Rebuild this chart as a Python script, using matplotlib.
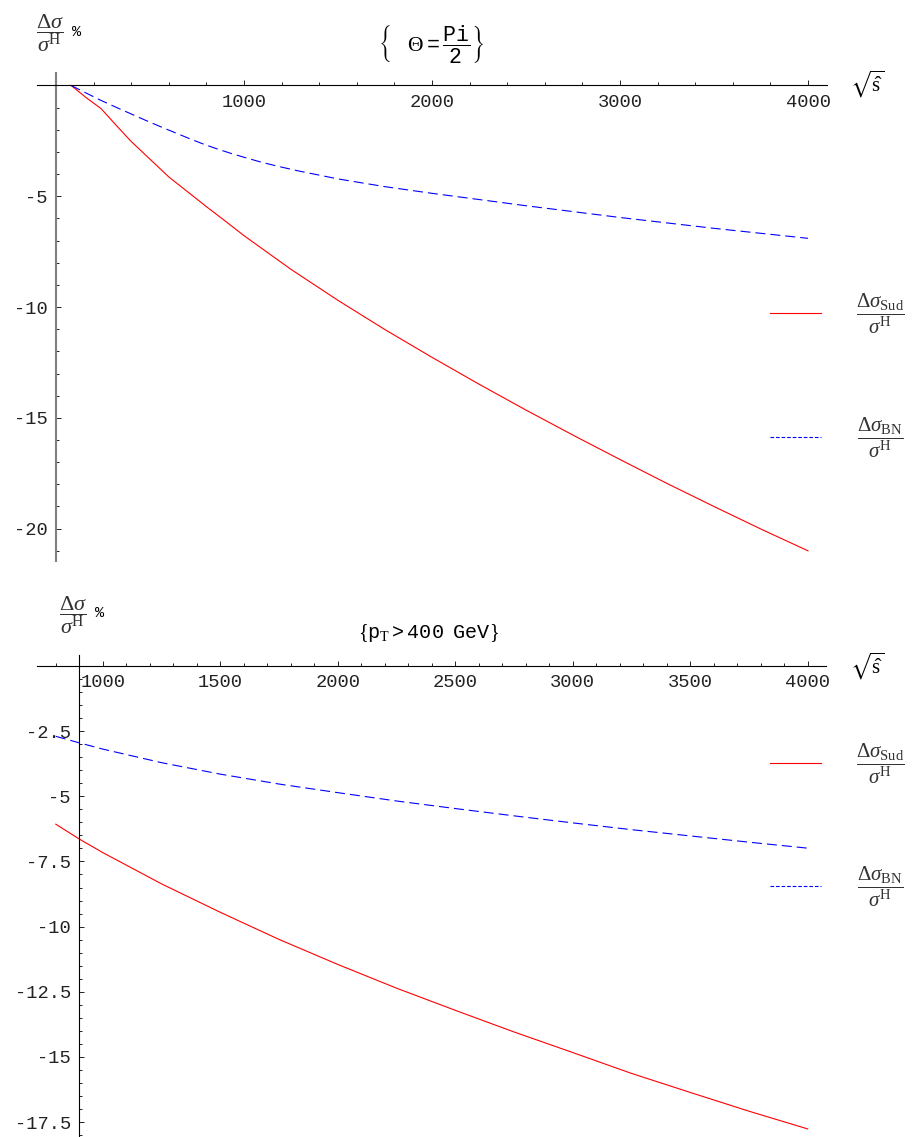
import numpy as np
from matplotlib import pyplot as plt
from matplotlib.lines import Line2D
from matplotlib.ticker import FixedLocator, MultipleLocator

plt.rcParams['mathtext.fontset'] = 'custom'
plt.rcParams['mathtext.rm'] = 'Liberation Serif'
plt.rcParams['mathtext.it'] = 'Liberation Serif:italic'
plt.rcParams['mathtext.tt'] = 'Liberation Mono'
plt.rcParams['mathtext.fallback'] = 'stix'
plt.rcParams['lines.scale_dashes'] = False

W, H = 913, 1137
MONO = ['Liberation Mono', 'DejaVu Sans Mono']

# upper panel, theta = Pi/2
s_top_sud = [80, 160, 240, 320, 400, 500, 600, 700, 800, 900, 1000, 1250, 1500, 1750,
             2000, 2250, 2500, 2750, 3000, 3250, 3500, 3750, 4000]
d_top_sud = [0, -0.55, -1.05, -1.80, -2.53, -3.33, -4.13, -4.80, -5.47, -6.12, -6.78, -8.30,
             -9.70, -11.02, -12.27, -13.48, -14.65, -15.78, -16.88, -17.96, -19.00, -20.02, -21.0]
s_top_bn = [80, 145, 235, 315, 395, 475, 555, 635, 715, 785, 855, 935, 1015, 1095, 1175, 1290,
            1500, 1750, 2000, 2500, 3000, 3500, 4000]
d_top_bn = [0, -0.28, -0.66, -0.97, -1.27, -1.57, -1.86, -2.14, -2.42, -2.65, -2.86, -3.08,
            -3.28, -3.47, -3.64, -3.86, -4.22, -4.57, -4.87, -5.43, -5.96, -6.45, -6.90]

# lower panel, pT > 400 GeV
s_bot = [800, 900, 1000, 1250, 1500, 1750, 2000, 2250, 2500, 2750, 3000, 3250, 3500, 3750, 4000]
d_bot_sud = [-6.07, -6.64, -7.16, -8.36, -9.45, -10.49, -11.45, -12.36, -13.21, -14.04, -14.83,
             -15.63, -16.36, -17.08, -17.76]
d_bot_bn = [-2.70, -2.95, -3.19, -3.71, -4.15, -4.53, -4.86, -5.18, -5.47, -5.75, -6.02,
            -6.28, -6.52, -6.76, -6.99]

top_xticks = [1000, 2000, 3000, 4000]
top_yticks = [-5, -10, -15, -20]
bot_xticks = [1000, 1500, 2000, 2500, 3000, 3500, 4000]
bot_yticks = [-2.5, -5, -7.5, -10, -12.5, -15, -17.5]
bot_ylabels = ['-2.5', '-5', '-7.5', '-10', '-12.5', '-15', '-17.5']


def fx(x):
    return x / W


def fy(y):
    return 1 - y / H


fig = plt.figure(figsize=(W / 100, H / 100), dpi=100)

ax1 = fig.add_axes([fx(37.2), fy(560.8), 789.6 / W, 487.6 / H])
ax2 = fig.add_axes([fx(37), 0, 789 / W, 482 / H])


def style_axes(ax, x0, xticks, xlabels, xminor, yticks, ylabels, yminor, ycol, ylw):
    for sp in ['top', 'right']:
        ax.spines[sp].set_visible(False)
    ax.spines['left'].set_position(('data', x0))
    ax.spines['bottom'].set_position(('data', 0))
    ax.spines['bottom'].set_linewidth(0.8)
    ax.spines['left'].set_linewidth(ylw)
    ax.spines['left'].set_color(ycol)
    ax.xaxis.set_major_locator(FixedLocator(xticks))
    ax.set_xticklabels(xlabels, family=MONO, fontsize=13.5, color='#222222')
    ax.xaxis.set_minor_locator(MultipleLocator(xminor))
    ax.yaxis.set_major_locator(FixedLocator(yticks))
    ax.set_yticklabels(ylabels, family=MONO, fontsize=13.5, color='#222222')
    ax.yaxis.set_minor_locator(MultipleLocator(yminor))
    ax.tick_params(which='both', direction='in', width=0.6, color='black')
    ax.tick_params(which='major', length=3.8, pad=6)
    ax.tick_params(which='minor', length=2.2)
    ax.patch.set_visible(False)


ax1.plot(s_top_sud, d_top_sud, color='red', lw=0.8)
ax1.plot(s_top_bn, d_top_bn, color='blue', lw=0.8, dashes=(7.2, 3.6))
ax1.set_xlim(-100, 4100)
ax1.set_ylim(-21.45, 0.55)
style_axes(ax1, 0, top_xticks, [str(t) for t in top_xticks], 200,
           top_yticks, [str(t) for t in top_yticks], 1, '#808080', 1.5)

ax2.plot(s_bot, d_bot_sud, color='red', lw=0.8)
ax2.plot(s_bot, d_bot_bn, color='blue', lw=0.8, dashes=(7.2, 3.6))
ax2.set_xlim(720, 4078)
ax2.set_ylim(-18.07, 0.42)
style_axes(ax2, 900, bot_xticks, [str(t) for t in bot_xticks], 100,
           bot_yticks, bot_ylabels, 0.5, 'black', 0.8)

frac = r'$\dfrac{\Delta\sigma}{\sigma^{\mathrm{H}}}$'
sud = r'$\dfrac{\Delta\sigma_{\mathrm{Sud}}}{\sigma^{\mathrm{H}}}$'
bn = r'$\dfrac{\Delta\sigma_{\mathrm{BN}}}{\sigma^{\mathrm{H}}}$'
shat = r'$\sqrt{\hat{\mathrm{s}}}$'

# axis labels and titles
fig.text(fx(50), fy(33), frac, ha='center', va='center', fontsize=16, color='#333333')
fig.text(fx(72), fy(32), '%', ha='left', va='center', family=MONO, fontsize=11)
fig.text(fx(73), fy(615), frac, ha='center', va='center', fontsize=16, color='#333333')
fig.text(fx(95), fy(613), '%', ha='left', va='center', family=MONO, fontsize=11)
fig.text(fx(867), fy(84), shat, ha='center', va='center', fontsize=15)
fig.text(fx(867), fy(666), shat, ha='center', va='center', fontsize=15)

fig.text(fx(431), fy(44), r'$\left\{\ \ \ \mathit{\Theta}\mathtt{=}\dfrac{\mathtt{Pi}}{\mathtt{2}}\right\}$',
         ha='center', va='center', fontsize=15.5)
fig.text(fx(428), fy(633), r'$\{\mathtt{p}_{\mathrm{T}}\mathtt{>400\ \ GeV}\}$',
         ha='center', va='center', fontsize=14.5)

# legend keys
for ly, txt, st in [(313, sud, 'r'), (437, bn, 'b'), (763, sud, 'r'), (886, bn, 'b')]:
    if st == 'r':
        fig.add_artist(Line2D([fx(770), fx(821)], [fy(ly), fy(ly)], color='red', lw=0.8))
    else:
        fig.add_artist(Line2D([fx(770), fx(821)], [fy(ly), fy(ly)], color='blue', lw=0.8,
                              dashes=(2.6, 1.4)))
    fig.text(fx(880), fy(ly + 1), txt, ha='center', va='center', fontsize=15, color='#333333')

fig.savefig('out.png', dpi=100)
